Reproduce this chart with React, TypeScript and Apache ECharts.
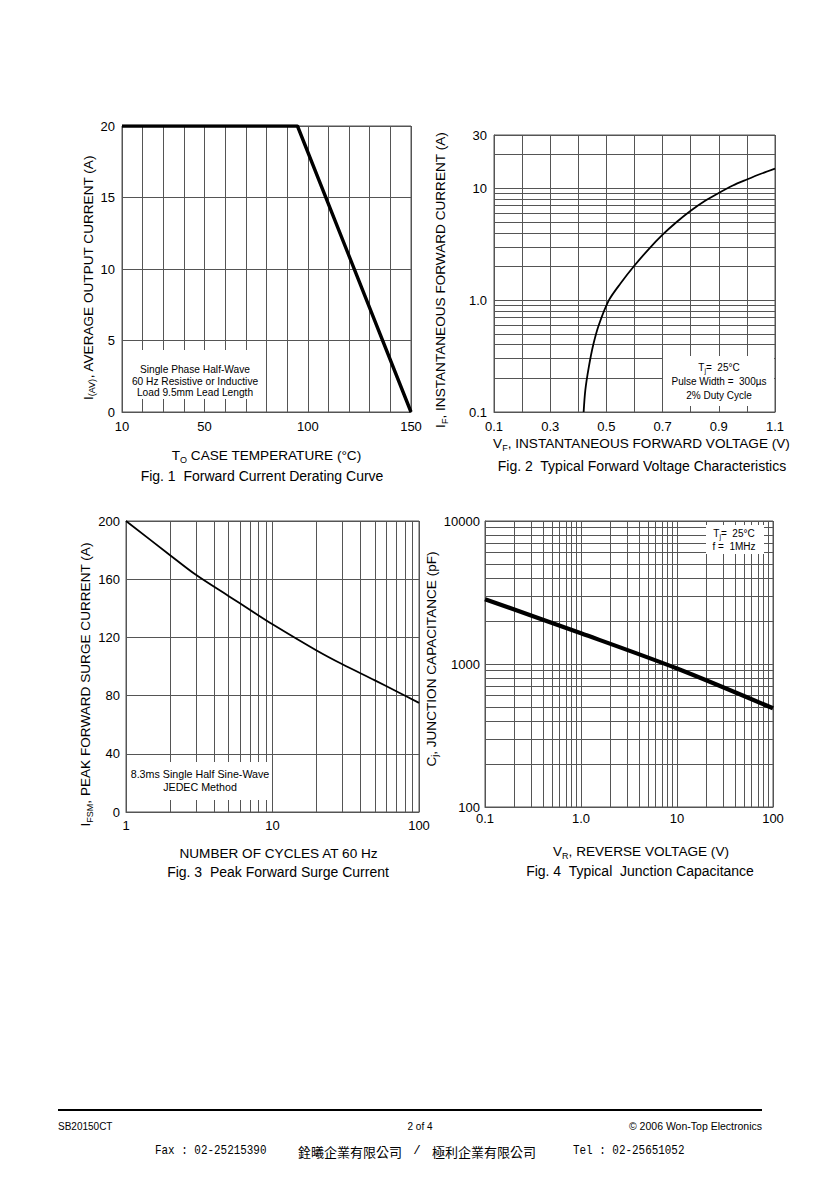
import React, { useEffect, useRef } from "react";
import * as echarts from "echarts";

// ---------- Fig. 1 Forward Current Derating Curve ----------
const fig1Temp = [10, 95, 150];
const fig1Current = [20, 20, 0];
const fig1XTicks = [10, 50, 100, 150];
const fig1XText = ["10", "50", "100", "150"];

// ---------- Fig. 2 Typical Forward Voltage Characteristics ----------
const fig2Voltage = [0.419, 0.425, 0.4375, 0.453, 0.473, 0.509, 0.55, 0.6, 0.65, 0.7, 0.75, 0.8, 0.85, 0.9, 0.95, 1.0, 1.05, 1.1];
const fig2Current = [0.1, 0.157, 0.253, 0.397, 0.6, 1.0, 1.41, 2.04, 2.85, 3.85, 5.0, 6.3, 7.7, 9.1, 10.6, 12.0, 13.5, 15.0];
const fig2XTicks = [0.1, 0.3, 0.5, 0.7, 0.9, 1.1];
const fig2XText = ["0.1", "0.3", "0.5", "0.7", "0.9", "1.1"];
const fig2YTicks = [0.1, 1, 10, 30];
const fig2YText = ["0.1", "1.0", "10", "30"];
const fig2YMinor = [0.2, 0.3, 0.4, 0.5, 0.6, 0.7, 0.8, 0.9, 2, 3, 4, 5, 6, 7, 8, 9, 20];

// ---------- Fig. 3 Peak Forward Surge Current ----------
const fig3Cycles = [1, 2, 3, 5, 7, 10, 20, 30, 50, 70, 100];
const fig3Current = [200, 176.5, 163, 148.5, 139, 129, 111, 101.5, 90.5, 83, 75];
const fig3XTicks = [1, 10, 100];
const fig3XText = ["1", "10", "100"];
const fig3XMinor = [2, 3, 4, 5, 6, 7, 8, 9, 20, 30, 40, 50, 60, 70, 80, 90];

// ---------- Fig. 4 Typical Junction Capacitance ----------
const fig4Voltage = [0.1, 1, 10, 100];
const fig4Cap = [2840, 1640, 930, 490];
const fig4XTicks = [0.1, 1, 10, 100];
const fig4XText = ["0.1", "1.0", "10", "100"];
const fig4YTicks = [100, 1000, 10000];
const fig4YText = ["100", "1000", "10000"];
const fig4XMinor = [0.2, 0.3, 0.4, 0.5, 0.6, 0.7, 0.8, 0.9, 2, 3, 4, 5, 6, 7, 8, 9, 20, 30, 40, 50, 60, 70, 80, 90];
const fig4YMinor = [200, 300, 400, 500, 600, 700, 800, 900, 2000, 3000, 4000, 5000, 6000, 7000, 8000, 9000];

const SANS = "'Liberation Sans', Arial, Helvetica, sans-serif";
const GRID = "#555555";
const TICK_FS = 13;
const NAME_FS = 13.6;
const CAP_FS = 14;

function zip(a: number[], b: number[]) {
  return a.map((v, i) => [v, b[i]]);
}

function pick(v: number, ticks: number[], texts: string[], log: boolean) {
  for (let i = 0; i < ticks.length; i++) {
    const d = log ? Math.abs(Math.log10(v) - Math.log10(ticks[i])) : Math.abs(v - ticks[i]);
    if (d < 1e-6) return texts[i];
  }
  return "";
}

const rich = {
  n: { fontSize: NAME_FS, fontFamily: SANS, color: "#000", lineHeight: 17 },
  s: { fontSize: 9, fontFamily: SANS, color: "#000", lineHeight: 9, verticalAlign: "bottom" },
};

const smallRich = {
  n: { fontSize: 10, fontFamily: SANS, color: "#000", lineHeight: 14 },
  s: { fontSize: 7, fontFamily: SANS, color: "#000", lineHeight: 7, verticalAlign: "bottom" },
};

function axisCommon() {
  return {
    axisLine: { show: true, lineStyle: { color: GRID, width: 1 } },
    axisTick: { show: false },
    splitLine: { show: true, lineStyle: { color: GRID, width: 1 } },
  };
}

function labelStyle(ticks: number[], texts: string[], log: boolean, margin: number) {
  return {
    color: "#000",
    fontFamily: SANS,
    fontSize: TICK_FS,
    margin,
    showMinLabel: true,
    showMaxLabel: true,
    formatter: (v: number) => pick(v, ticks, texts, log),
  };
}

function minorLines(data: any[]) {
  return {
    silent: true,
    symbol: ["none", "none"],
    label: { show: false },
    emphasis: { disabled: true },
    lineStyle: { color: GRID, width: 1, type: "solid" },
    animation: false,
    data,
  };
}

function caption(x: number, y: number, text: string) {
  return {
    type: "text", x, y,
    style: { text, fontSize: CAP_FS, fontFamily: SANS, fill: "#000", align: "center", verticalAlign: "middle" },
  };
}

export default function App() {
  const ref = useRef<HTMLDivElement>(null);

  useEffect(() => {
    if (!ref.current) return;
    const chart = echarts.init(ref.current, undefined, { renderer: "svg" });

    const option: any = {
      animation: false,
      backgroundColor: "#fff",
      grid: [
        { left: 122, top: 126, width: 289, height: 286, show: true, borderColor: GRID, borderWidth: 1 },
        { left: 494, top: 135, width: 281, height: 277, show: true, borderColor: GRID, borderWidth: 1 },
        { left: 126, top: 521, width: 293, height: 291, show: true, borderColor: GRID, borderWidth: 1 },
        { left: 485, top: 521, width: 288, height: 286, show: true, borderColor: GRID, borderWidth: 1 },
      ],
      xAxis: [
        {
          gridIndex: 0, type: "value", min: 10, max: 150, interval: 10, ...axisCommon(),
          axisLabel: labelStyle(fig1XTicks, fig1XText, false, 8),
          name: "{n|T}{s|O}{n| CASE TEMPERATURE (°C)}", nameLocation: "middle", nameGap: 35,
          nameTextStyle: { rich },
        },
        {
          gridIndex: 1, type: "value", min: 0.1, max: 1.1, interval: 0.1, ...axisCommon(),
          axisLabel: labelStyle(fig2XTicks, fig2XText, false, 8),
          name: "{n|V}{s|F}{n|, INSTANTANEOUS FORWARD VOLTAGE (V)}", nameLocation: "middle", nameGap: 23,
          nameTextStyle: { rich, padding: [0, 0, 0, 14] },
        },
        {
          gridIndex: 2, type: "log", logBase: 10, min: 1, max: 100, ...axisCommon(),
          axisLabel: labelStyle(fig3XTicks, fig3XText, true, 7),
          name: "{n|NUMBER OF CYCLES AT 60 Hz}", nameLocation: "middle", nameGap: 33,
          nameTextStyle: { rich, padding: [0, 0, 0, 12] },
        },
        {
          gridIndex: 3, type: "log", logBase: 10, min: 0.1, max: 100, ...axisCommon(),
          axisLabel: labelStyle(fig4XTicks, fig4XText, true, 5),
          name: "{n|V}{s|R}{n|, REVERSE VOLTAGE (V)}", nameLocation: "middle", nameGap: 36,
          nameTextStyle: { rich, padding: [0, 0, 0, 24] },
        },
      ],
      yAxis: [
        {
          gridIndex: 0, type: "value", min: 0, max: 20, interval: 5, ...axisCommon(),
          axisLabel: { color: "#000", fontFamily: SANS, fontSize: TICK_FS, margin: 7 },
          name: "{n|I}{s|(AV)}{n|, AVERAGE OUTPUT CURRENT (A)}", nameLocation: "middle", nameRotate: 90, nameGap: 24,
          nameTextStyle: { rich, padding: [0, 17, 0, 0] },
        },
        {
          gridIndex: 1, type: "log", logBase: 10, min: 0.1, max: 30, ...axisCommon(),
          axisLabel: labelStyle(fig2YTicks, fig2YText, true, 7),
          name: "{n|I}{s|F}{n|, INSTANTANEOUS FORWARD CURRENT (A)}", nameLocation: "middle", nameRotate: 90, nameGap: 45,
          nameTextStyle: { rich, padding: [0, 13, 0, 0] },
        },
        {
          gridIndex: 2, type: "value", min: 0, max: 200, interval: 40, ...axisCommon(),
          axisLabel: { color: "#000", fontFamily: SANS, fontSize: TICK_FS, margin: 6 },
          name: "{n|I}{s|FSM}{n|, PEAK FORWARD SURGE CURRENT (A)}", nameLocation: "middle", nameRotate: 90, nameGap: 28,
          nameTextStyle: { rich, padding: [0, 36, 0, 0] },
        },
        {
          gridIndex: 3, type: "log", logBase: 10, min: 100, max: 10000, ...axisCommon(),
          axisLabel: labelStyle(fig4YTicks, fig4YText, true, 5),
          name: "{n|C}{s|j}{n|, JUNCTION CAPACITANCE (pF)}", nameLocation: "middle", nameRotate: 90, nameGap: 32,
          nameTextStyle: { rich, padding: [0, 0, 0, 10] },
        },
      ],
      series: [
        // minor grid helpers
        {
          type: "line", xAxisIndex: 1, yAxisIndex: 1, silent: true, z: 1,
          data: [[fig2Voltage[0], fig2Current[0]]], symbol: "none", lineStyle: { opacity: 0 },
          markLine: minorLines(fig2YMinor.map((v) => ({ yAxis: v }))),
        },
        {
          type: "line", xAxisIndex: 2, yAxisIndex: 2, silent: true, z: 1,
          data: [[fig3Cycles[0], fig3Current[0]]], symbol: "none", lineStyle: { opacity: 0 },
          markLine: minorLines(fig3XMinor.map((v) => ({ xAxis: v }))),
        },
        {
          type: "line", xAxisIndex: 3, yAxisIndex: 3, silent: true, z: 1,
          data: [[fig4Voltage[0], fig4Cap[0]]], symbol: "none", lineStyle: { opacity: 0 },
          markLine: minorLines([
            ...fig4XMinor.map((v) => ({ xAxis: v })),
            ...fig4YMinor.map((v) => ({ yAxis: v })),
          ]),
        },
        // curves
        {
          type: "line", xAxisIndex: 0, yAxisIndex: 0, z: 10, silent: true,
          data: zip(fig1Temp, fig1Current), symbol: "none",
          lineStyle: { color: "#000", width: 3.4 },
        },
        {
          type: "line", xAxisIndex: 1, yAxisIndex: 1, z: 10, silent: true, smooth: 0.3,
          data: zip(fig2Voltage, fig2Current), symbol: "none",
          lineStyle: { color: "#000", width: 1.8 },
        },
        {
          type: "line", xAxisIndex: 2, yAxisIndex: 2, z: 10, silent: true, smooth: 0.3,
          data: zip(fig3Cycles, fig3Current), symbol: "none",
          lineStyle: { color: "#000", width: 1.8 },
        },
        {
          type: "line", xAxisIndex: 3, yAxisIndex: 3, z: 10, silent: true, smooth: 0.3,
          data: zip(fig4Voltage, fig4Cap), symbol: "none",
          lineStyle: { color: "#000", width: 4.2 },
        },
      ],
      graphic: {
        elements: [
          // Fig 1 note
          { type: "rect", z: 50, shape: { x: 123, y: 350, width: 126, height: 49 }, style: { fill: "#fff" } },
          {
            type: "text", z: 51, x: 195, y: 381,
            style: {
              text: "Single Phase Half-Wave\n60 Hz Resistive or Inductive\nLoad 9.5mm Lead Length",
              fontSize: 10.2, fontFamily: SANS, fill: "#000", align: "center", verticalAlign: "middle", lineHeight: 11.5,
            },
          },
          // Fig 2 note
          { type: "rect", z: 50, shape: { x: 663, y: 356, width: 111, height: 50 }, style: { fill: "#fff" } },
          {
            type: "text", z: 51, x: 719, y: 381,
            style: {
              text: "{n|T}{s|j}{n|=  25°C}\n{n|Pulse Width =  300µs}\n{n|2% Duty Cycle}",
              rich: smallRich, align: "center", verticalAlign: "middle",
            },
          },
          // Fig 3 note
          { type: "rect", z: 50, shape: { x: 127, y: 762, width: 143, height: 38 }, style: { fill: "#fff" } },
          {
            type: "text", z: 51, x: 200, y: 780.5,
            style: {
              text: "8.3ms Single Half Sine-Wave\nJEDEC Method",
              fontSize: 10.7, fontFamily: SANS, fill: "#000", align: "center", verticalAlign: "middle", lineHeight: 12.5,
            },
          },
          // Fig 4 note
          { type: "rect", z: 50, shape: { x: 706, y: 525, width: 58, height: 29 }, style: { fill: "#fff" } },
          {
            type: "text", z: 51, x: 734, y: 540,
            style: {
              text: "{n|T}{s|j}{n|=  25°C}\n{n|f =  1MHz}",
              rich: { n: { ...smallRich.n, lineHeight: 13.5 }, s: smallRich.s }, align: "center", verticalAlign: "middle",
            },
          },
          // captions
          caption(262, 476, "Fig. 1  Forward Current Derating Curve"),
          caption(642, 466, "Fig. 2  Typical Forward Voltage Characteristics"),
          caption(278, 871.5, "Fig. 3  Peak Forward Surge Current"),
          caption(640, 870.5, "Fig. 4  Typical  Junction Capacitance"),
          // footer
          { type: "line", shape: { x1: 58, y1: 1110, x2: 762, y2: 1110 }, style: { stroke: "#000", lineWidth: 2 } },
          {
            type: "text", x: 58, y: 1126,
            style: { text: "SB20150CT", fontSize: 10, fontFamily: SANS, fill: "#000", align: "left", verticalAlign: "middle" },
          },
          {
            type: "text", x: 420, y: 1126,
            style: { text: "2 of 4", fontSize: 10, fontFamily: SANS, fill: "#000", align: "center", verticalAlign: "middle" },
          },
          {
            type: "text", x: 762, y: 1126,
            style: { text: "© 2006 Won-Top Electronics", fontSize: 10.5, fontFamily: SANS, fill: "#000", align: "right", verticalAlign: "middle" },
          },
          {
            type: "text", x: 155, y: 1151, scaleX: 0.875,
            style: { text: "Fax : 02-25215390", fontSize: 12.5, fontFamily: "'Liberation Mono', monospace", fill: "#000", align: "left", verticalAlign: "middle" },
          },
          {
            type: "text", x: 298, y: 1151,
            style: { text: "銓曦企業有限公司", fontSize: 13, fontFamily: "'Noto Sans CJK TC', sans-serif", fill: "#000", align: "left", verticalAlign: "middle" },
          },
          {
            type: "text", x: 417, y: 1151,
            style: { text: "/", fontSize: 12.5, fontFamily: "'Liberation Mono', monospace", fill: "#000", align: "center", verticalAlign: "middle" },
          },
          {
            type: "text", x: 432, y: 1151,
            style: { text: "極利企業有限公司", fontSize: 13, fontFamily: "'Noto Sans CJK TC', sans-serif", fill: "#000", align: "left", verticalAlign: "middle" },
          },
          {
            type: "text", x: 573, y: 1151, scaleX: 0.875,
            style: { text: "Tel : 02-25651052", fontSize: 12.5, fontFamily: "'Liberation Mono', monospace", fill: "#000", align: "left", verticalAlign: "middle" },
          },
        ],
      },
    };

    chart.setOption(option);
    return () => {
      chart.dispose();
    };
  }, []);

  return (
    <div
      ref={ref}
      style={{ position: "absolute", left: 0, top: 0, width: 840, height: 1189, background: "#fff" }}
    />
  );
}
